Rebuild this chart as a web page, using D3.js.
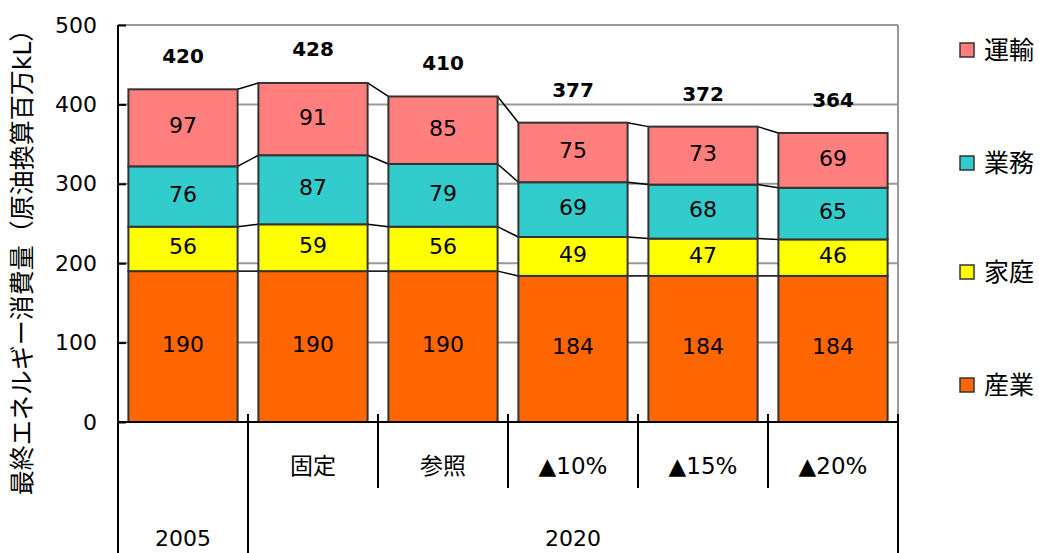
<!DOCTYPE html>
<html>
<head>
<meta charset="utf-8">
<script src="https://cdn.jsdelivr.net/npm/d3@7"></script>
<style>
  body { margin: 0; background: #fff; }
  text { font-family: "DejaVu Sans", "Noto Sans CJK JP", sans-serif; }
</style>
</head>
<body>
<div id="chart"></div>
<script>
var width = 1039, height = 553;

// data
var categories = ["2005", "固定", "参照", "▲10%", "▲15%", "▲20%"];
var groupLabels = ["2005", "2020"];
var seriesNames = ["産業", "家庭", "業務", "運輸"];
var sangyo = [190, 190, 190, 184, 184, 184];
var katei = [56, 59, 56, 49, 47, 46];
var gyomu = [76, 87, 79, 69, 68, 65];
var unyu = [97, 91, 85, 75, 73, 69];
var totals = [420, 428, 410, 377, 372, 364];
var yTicks = [0, 100, 200, 300, 400, 500];

var colors = { "産業": "#FF6600", "家庭": "#FFFF00", "業務": "#33CCCC", "運輸": "#FF7F7F" };

var rows = categories.map(function(c, i) {
    return { cat: c, "産業": sangyo[i], "家庭": katei[i], "業務": gyomu[i], "運輸": unyu[i], total: totals[i] };
});

var plotLeft = 118, plotRight = 898, plotTop = 25, plotBottom = 422;

var svg = d3.select("#chart").append("svg")
    .attr("width", width)
    .attr("height", height);

var x = d3.scaleBand().domain(categories).range([plotLeft, plotRight]).paddingInner(0.16).paddingOuter(0.08);
var y = d3.scaleLinear().domain([0, 500]).range([plotBottom, plotTop]);

// gridlines
svg.append("g").selectAll("line")
    .data(yTicks.filter(function(d) { return d > 0; }))
    .join("line")
    .attr("x1", plotLeft).attr("x2", plotRight)
    .attr("y1", function(d) { return y(d); }).attr("y2", function(d) { return y(d); })
    .attr("stroke", "#999").attr("stroke-width", 2);

// right border of plot
svg.append("line").attr("x1", plotRight).attr("x2", plotRight).attr("y1", plotTop).attr("y2", plotBottom)
    .attr("stroke", "#999").attr("stroke-width", 2);

var stacked = d3.stack().keys(seriesNames)(rows);

// connector lines between bars
stacked.forEach(function(s) {
    for (var i = 0; i < categories.length - 1; i++) {
        svg.append("line")
            .attr("x1", x(categories[i]) + x.bandwidth())
            .attr("x2", x(categories[i + 1]))
            .attr("y1", y(s[i][1]))
            .attr("y2", y(s[i + 1][1]))
            .attr("stroke", "#000").attr("stroke-width", 1.5);
    }
});

// bars
svg.append("g").selectAll("g")
    .data(stacked)
    .join("g")
    .attr("fill", function(d) { return colors[d.key]; })
    .selectAll("rect")
    .data(function(d) { return d; })
    .join("rect")
    .attr("x", function(d) { return x(d.data.cat); })
    .attr("width", x.bandwidth())
    .attr("y", function(d) { return y(d[1]); })
    .attr("height", function(d) { return y(d[0]) - y(d[1]); })
    .attr("stroke", "#333").attr("stroke-width", 2);

// segment labels
stacked.forEach(function(s) {
    svg.append("g").selectAll("text")
        .data(s)
        .join("text")
        .attr("x", function(d) { return x(d.data.cat) + x.bandwidth() / 2; })
        .attr("y", function(d) { return (y(d[0]) + y(d[1])) / 2 - 2; })
        .attr("text-anchor", "middle")
        .attr("dominant-baseline", "central")
        .attr("font-size", 22)
        .text(function(d) { return d.data[s.key]; });
});

// totals
svg.append("g").selectAll("text")
    .data(rows)
    .join("text")
    .attr("x", function(d) { return x(d.cat) + x.bandwidth() / 2; })
    .attr("y", function(d) { return y(d.total) - 33; })
    .attr("text-anchor", "middle")
    .attr("dominant-baseline", "central")
    .attr("font-size", 20)
    .attr("font-weight", "bold")
    .text(function(d) { return d.total; });

// y axis
var yAxis = svg.append("g")
    .attr("transform", "translate(" + plotLeft + ",0)")
    .call(d3.axisLeft(y).tickValues(yTicks).tickSize(-8).tickPadding(21));
yAxis.select(".domain").remove();
yAxis.selectAll("line").attr("stroke", "#000").attr("stroke-width", 2);
yAxis.selectAll("text").attr("font-size", 22).attr("fill", "#000")
    .style("font-family", "'DejaVu Sans', sans-serif");

svg.append("line").attr("x1", plotLeft).attr("x2", plotLeft).attr("y1", plotTop).attr("y2", height)
    .attr("stroke", "#000").attr("stroke-width", 2);

// y title
svg.append("text")
    .attr("transform", "translate(22," + 256 + ") rotate(-90)")
    .attr("text-anchor", "middle")
    .attr("dominant-baseline", "central")
    .attr("font-size", 25)
    .text("最終エネルギー消費量（原油換算百万kL）");

// category axis
svg.append("line").attr("x1", plotLeft).attr("x2", plotRight).attr("y1", plotBottom).attr("y2", plotBottom)
    .attr("stroke", "#000").attr("stroke-width", 2);

var step = x.step();
var edges = categories.map(function(c, i) { return plotLeft + step * i; }).concat([plotRight]);
edges.forEach(function(ex, i) {
    if (i === 0) return;
    var yEnd = (i === 1 || i === edges.length - 1) ? height : 488;
    svg.append("line").attr("x1", ex).attr("x2", ex).attr("y1", plotBottom - 8).attr("y2", yEnd)
        .attr("stroke", "#000").attr("stroke-width", 2);
});

svg.append("g").selectAll("text")
    .data(categories.slice(1))
    .join("text")
    .attr("x", function(d) { return x(d) + x.bandwidth() / 2; })
    .attr("y", 466)
    .attr("text-anchor", "middle")
    .attr("dominant-baseline", "central")
    .attr("font-size", 23)
    .text(function(d) { return d; });

svg.append("text")
    .attr("x", (edges[0] + edges[1]) / 2).attr("y", 538)
    .attr("text-anchor", "middle").attr("dominant-baseline", "central")
    .attr("font-size", 22).text(groupLabels[0]);
svg.append("text")
    .attr("x", (edges[1] + plotRight) / 2).attr("y", 538)
    .attr("text-anchor", "middle").attr("dominant-baseline", "central")
    .attr("font-size", 22).text(groupLabels[1]);

// legend
var legendOrder = ["運輸", "業務", "家庭", "産業"];
var legendY = [50, 163, 272, 385];
var legend = svg.append("g").selectAll("g")
    .data(legendOrder)
    .join("g")
    .attr("transform", function(d, i) { return "translate(960," + legendY[i] + ")"; });
legend.append("rect")
    .attr("x", 0).attr("y", -7).attr("width", 14).attr("height", 14)
    .attr("fill", function(d) { return colors[d]; })
    .attr("stroke", "#333").attr("stroke-width", 1.5);
legend.append("text")
    .attr("x", 24).attr("y", 0)
    .attr("dominant-baseline", "central")
    .attr("font-size", 25)
    .text(function(d) { return d; });
</script>
</body>
</html>
